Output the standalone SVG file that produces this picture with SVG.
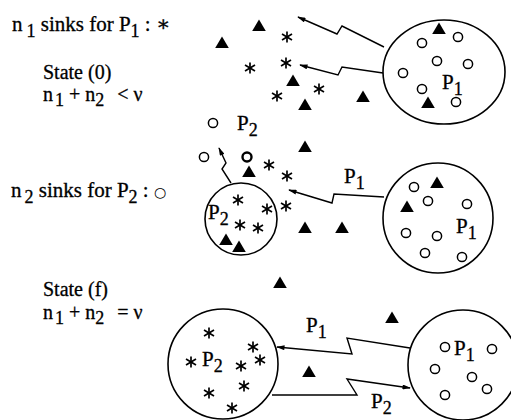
<svg xmlns="http://www.w3.org/2000/svg" xmlns:xlink="http://www.w3.org/1999/xlink" width="511" height="420" viewBox="0 0 511 420">
<style>
  text { font-family: "Liberation Serif", "Times New Roman", "DejaVu Serif", serif; font-size: 21px; fill: #000; stroke: #000; stroke-width: 0.3; }
  .lg { font-size: 20px; }
  .s { font-size: 18px; }
  .sym { font-family: "DejaVu Sans", sans-serif; stroke-width: 0; }
  .big { fill: none; stroke: #000; stroke-width: 1.6; }
  .zz { fill: none; stroke: #000; stroke-width: 1.4; stroke-linejoin: miter; marker-end: url(#ah); }
</style>
<defs>
  <marker id="ah" viewBox="0 0 10 6" refX="9" refY="3" markerWidth="9" markerHeight="5" markerUnits="userSpaceOnUse" orient="auto">
    <path d="M0,0 L10,3 L0,6 Z" fill="#000"/>
  </marker>
  <path id="tri" d="M0,-6.5 L6.8,5 L-6.8,5 Z" fill="#000"/>
  <circle id="o" r="4.6" fill="#fff" stroke="#000" stroke-width="1.5"/>
  <g id="ast" stroke="#000" stroke-width="1.7">
    <line x1="0" y1="-5.5" x2="0" y2="5.5"/>
    <line x1="-5" y1="-2.9" x2="5" y2="2.9"/>
    <line x1="-5" y1="2.9" x2="5" y2="-2.9"/>
  </g>
</defs>

<g id="legend">
  <text x="12" y="31">n<tspan class="s" dx="4" dy="6">1</tspan><tspan dy="-6"> sinks for P</tspan><tspan class="s" dy="6">1</tspan><tspan dy="-6"> : ∗</tspan></text>
  <text class="lg" x="43" y="78.5">State (0)</text>
  <text class="lg" x="43" y="101">n<tspan class="s" dx="2" dy="5">1</tspan><tspan dy="-5"> + n</tspan><tspan class="s" dy="5">2</tspan><tspan dx="8" dy="-5"> &lt; ν</tspan></text>
  <text x="11" y="197">n<tspan class="s" dx="3" dy="6">2</tspan><tspan dy="-6"> sinks for P</tspan><tspan class="s" dy="6">2</tspan><tspan dy="-6"> : <tspan class="sym" font-size="14">○</tspan></tspan></text>
  <text class="lg" x="43" y="296">State (f)</text>
  <text class="lg" x="43" y="319">n<tspan class="s" dx="2" dy="5">1</tspan><tspan dy="-5"> + n</tspan><tspan class="s" dy="5">2</tspan><tspan dx="8" dy="-5"> = ν</tspan></text>
</g>

<!-- State (0) -->
<g id="free-sinks-0">
  <use xlink:href="#tri" x="259" y="26"/>
  <use xlink:href="#tri" x="222" y="43"/>
  <use xlink:href="#ast" x="287" y="37"/>
  <use xlink:href="#ast" x="250" y="68"/>
  <use xlink:href="#ast" x="286" y="63"/>
  <use xlink:href="#tri" x="293" y="81"/>
  <use xlink:href="#ast" x="277" y="96"/>
  <use xlink:href="#ast" x="319" y="89"/>
  <use xlink:href="#tri" x="305" y="105"/>
  <use xlink:href="#tri" x="363" y="97"/>
</g>
<g id="P1-state0">
  <ellipse class="big" cx="444" cy="72" rx="61" ry="52"/>
  <use xlink:href="#tri" x="439" y="29"/>
  <use xlink:href="#o" x="458" y="37"/>
  <use xlink:href="#o" x="422" y="43"/>
  <use xlink:href="#o" x="437" y="61"/>
  <use xlink:href="#o" x="468" y="64"/>
  <use xlink:href="#o" x="403" y="73"/>
  <use xlink:href="#o" x="422" y="89"/>
  <use xlink:href="#tri" x="428" y="103"/>
  <use xlink:href="#o" x="456" y="102"/>
  <text x="442" y="89">P<tspan class="s" dy="6">1</tspan></text>
</g>

<!-- intermediate -->
<g id="free-sinks-mid">
  <use xlink:href="#o" x="213" y="123"/>
  <text x="237" y="130">P<tspan class="s" dy="6">2</tspan></text>
  <use xlink:href="#tri" x="305" y="147"/>
  <use xlink:href="#o" x="204" y="157"/>
  <circle cx="247" cy="157" r="4.5" fill="#fff" stroke="#000" stroke-width="2.4"/>
  <use xlink:href="#tri" x="249" y="172"/>
  <use xlink:href="#ast" x="269" y="165"/>
  <use xlink:href="#ast" x="287" y="176"/>
  <use xlink:href="#ast" x="286" y="206"/>
  <use xlink:href="#tri" x="305" y="228"/>
  <use xlink:href="#tri" x="342" y="228"/>
  <text x="344" y="183">P<tspan class="s" dy="6">1</tspan></text>
  <use xlink:href="#tri" x="280" y="283"/>
</g>
<g id="P2-mid">
  <circle class="big" cx="241" cy="219" r="36"/>
  <text x="208" y="219">P<tspan class="s" dy="6">2</tspan></text>
  <use xlink:href="#ast" x="238" y="200"/>
  <use xlink:href="#ast" x="267" y="209"/>
  <use xlink:href="#ast" x="240" y="225"/>
  <use xlink:href="#ast" x="258" y="228"/>
  <use xlink:href="#tri" x="226" y="240"/>
  <use xlink:href="#tri" x="239" y="247"/>
</g>
<g id="P1-mid">
  <circle class="big" cx="438" cy="218" r="55"/>
  <use xlink:href="#o" x="414" y="187"/>
  <use xlink:href="#tri" x="437" y="183"/>
  <use xlink:href="#tri" x="407" y="207"/>
  <use xlink:href="#o" x="428" y="201"/>
  <use xlink:href="#o" x="467" y="204"/>
  <use xlink:href="#o" x="406" y="233"/>
  <use xlink:href="#o" x="437" y="236"/>
  <use xlink:href="#o" x="425" y="253"/>
  <use xlink:href="#o" x="462" y="257"/>
  <text x="456" y="233">P<tspan class="s" dy="6">1</tspan></text>
</g>

<!-- State (f) -->
<g id="free-f">
  <use xlink:href="#tri" x="392" y="318"/>
  <use xlink:href="#tri" x="309" y="372"/>
  <text x="306" y="332">P<tspan class="s" dy="6">1</tspan></text>
  <text x="371" y="408">P<tspan class="s" dy="6">2</tspan></text>
</g>
<g id="P2-f">
  <circle class="big" cx="223" cy="364" r="55"/>
  <use xlink:href="#ast" x="209" y="333"/>
  <text x="202" y="366">P<tspan class="s" dy="6">2</tspan></text>
  <use xlink:href="#ast" x="191" y="362"/>
  <use xlink:href="#ast" x="253" y="347"/>
  <use xlink:href="#ast" x="260" y="360"/>
  <use xlink:href="#ast" x="241" y="366"/>
  <use xlink:href="#ast" x="244" y="386"/>
  <use xlink:href="#ast" x="209" y="393"/>
  <use xlink:href="#ast" x="232" y="408"/>
</g>
<g id="P1-f">
  <circle class="big" cx="463" cy="365" r="55"/>
  <use xlink:href="#o" x="445" y="347"/>
  <text x="454" y="355">P<tspan class="s" dy="6">1</tspan></text>
  <use xlink:href="#o" x="492" y="349"/>
  <use xlink:href="#o" x="435" y="369"/>
  <use xlink:href="#o" x="472" y="377"/>
  <use xlink:href="#o" x="487" y="389"/>
  <use xlink:href="#o" x="445" y="395"/>
</g>

<g id="connectors">
  <polyline class="zz" points="384,47 342,26 337,34 298,17"/>
  <polyline class="zz" points="383,73 342,67 338,75 300,65"/>
  <polyline class="zz" points="231,183 222,169 226,163 219,148"/>
  <polyline class="zz" points="384,197 334,194 332,203 289,190"/>
  <polyline class="zz" points="410,348 347,338 352,354 277,347"/>
  <polyline class="zz" points="272,395 357,395 347,379 410,388"/>
</g>
</svg>
